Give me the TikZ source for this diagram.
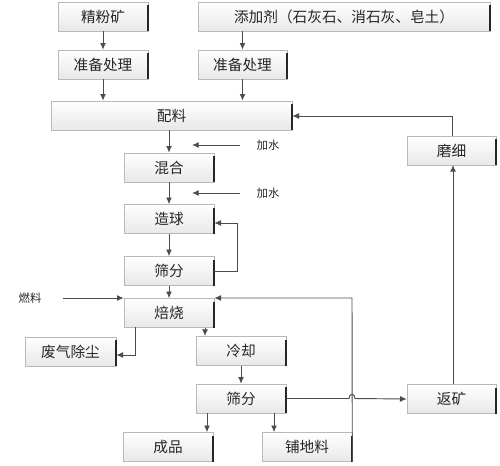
\documentclass[tikz,border=0pt]{standalone}
\usepackage{fontspec}
\setmainfont{Noto Sans CJK SC}
\usetikzlibrary{arrows.meta,calc}
\tikzset{
  box/.style={draw=gray!55, line width=0.5pt, top color=white, bottom color=gray!18,
    minimum height=29*0.75pt, inner sep=0pt, font=\fontsize{11}{13}\selectfont, text=black!85},
  arr/.style={draw=black!70, line width=0.7pt, -{Latex[length=5pt,width=4.5pt]}},
  ln/.style={draw=black!70, line width=0.7pt},
  lbl/.style={font=\fontsize{8.5}{10}\selectfont, text=black!85, inner sep=0pt}
}
\begin{document}
\begin{tikzpicture}[x=0.75pt,y=-0.75pt]
\useasboundingbox (0,0) rectangle (500,465);
% boxes
\node[box,minimum width=90*0.75pt] (jfk) at (103,16.5) {精粉矿};
\node[box,minimum width=292*0.75pt] (tjj) at (344,16.5) {添加剂（石灰石、消石灰、皂土）};
\node[box,minimum width=90*0.75pt] (zb1) at (103,64.5) {准备处理};
\node[box,minimum width=89*0.75pt] (zb2) at (242.5,64.5) {准备处理};
\node[box,minimum width=241*0.75pt] (pl) at (171.5,115.5) {配料};
\node[box,minimum width=89*0.75pt] (mx) at (451.5,150.5) {磨细};
\node[box,minimum width=90*0.75pt] (hh) at (169,167.5) {混合};
\node[box,minimum width=90*0.75pt] (zq) at (169,219) {造球};
\node[box,minimum width=90*0.75pt] (sf1) at (169,271) {筛分};
\node[box,minimum width=90*0.75pt] (bs) at (169,313) {焙烧};
\node[box,minimum width=91*0.75pt] (fq) at (70.5,351.5) {废气除尘};
\node[box,minimum width=90*0.75pt] (lq) at (241,351) {冷却};
\node[box,minimum width=90*0.75pt] (sf2) at (241,398.5) {筛分};
\node[box,minimum width=89*0.75pt] (fk) at (451.5,399) {返矿};
\node[box,minimum width=90*0.75pt] (cp) at (168,447) {成品};
\node[box,minimum width=90*0.75pt] (pdl) at (307,447) {铺地料};
% dark right edges
\foreach \n in {jfk,tjj,zb1,zb2,pl,mx,hh,zq,sf1,bs,fq,lq,sf2,fk,cp,pdl}
  \draw[black!85,line width=1.3pt] ([yshift=-2.5pt]\n.north east) -- (\n.south east);
% labels
\node[lbl] (w1) at (268,145) {加水};
\node[lbl] (w2) at (268,193) {加水};
\node[lbl] (rl) at (30,298) {燃料};
\coordinate (w1e) at (192,145);
\coordinate (w2e) at (192,193);
% connectors
\draw[arr] (jfk.south) -- (zb1.north);
\draw[arr] (zb1.south) -- (zb1.south |- pl.north);
\draw[arr] (tjj.south -| zb2) -- (zb2.north);
\draw[arr] (zb2.south) -- (zb2.south |- pl.north);
\draw[arr] (pl.south -| hh) -- (hh.north);
\draw[arr] ([xshift=-12pt]w1.west) -- (w1e);
\draw[arr] ([xshift=-12pt]w2.west) -- (w2e);
\draw[arr] (hh.south) -- (zq.north);
\draw[arr] (zq.south) -- (sf1.north);
\draw[arr] (sf1.east) -- (237,271) -- (237,223) -- (zq.east |- 0,223);
\draw[arr] (sf1.south) -- (bs.north);
\draw[arr] ([xshift=16pt]rl.east) -- (bs.west |- rl);
\draw[arr] (pdl.south east) -- (352,298) -- (bs.east |- 0,298);
\draw[arr] (135,327) -- (135,355) -- (fq.east |- 0,355);
\draw[arr] (bs.south -| 205,0) -- (205,336);
\draw[arr] (lq.south) -- (sf2.north);
\draw[arr] (sf2.east) -- (349,398.5) .. controls (349,393) and (355,393) .. (355,398.5) -- (fk.west);
\draw[arr] (fk.north -| 453,0) -- (453,165);
\draw[arr] (mx.north -| 452,0) -- (452,116) -- (pl.east |- 0,116);
\draw[arr] (sf2.south -| 207,0) -- (cp.north -| 207,0);
\draw[arr] (sf2.south -| 274,0) -- (pdl.north -| 274,0);
\end{tikzpicture}
\end{document}
